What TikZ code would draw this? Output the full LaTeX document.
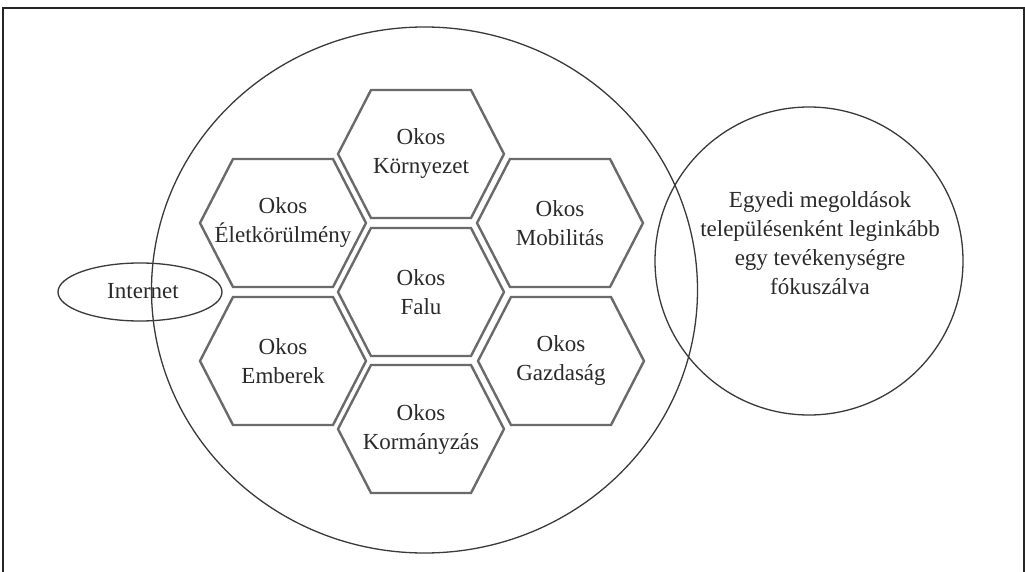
\documentclass[tikz,border=0pt]{standalone}
\usepackage{fontspec}
\setmainfont{Liberation Serif}
\usetikzlibrary{shapes.geometric}
\definecolor{hexline}{HTML}{6A6A6A}
\definecolor{ringline}{HTML}{3A3A3A}
\definecolor{txt}{HTML}{2A2A2A}
\tikzset{
  hexedge/.style={draw=hexline, line width=2.4pt, line join=miter},
  ring/.style={draw=ringline, line width=1.3pt},
  lbl/.style={align=center, text=txt, font=\fontsize{23}{29}\selectfont, inner sep=0pt},
  frameline/.style={draw=black!85, line width=1.6pt}
}
\newcommand{\hexcell}[4]{%
  \draw[hexedge] ($(#2,#3)+(-83,0)$) -- ++(33,64) -- ++(100,0) -- ++(33,-64) -- ++(-33,-64) -- ++(-100,0) -- cycle;
  \node[lbl] (#1) at (#2,#3) {#4};
}
\usetikzlibrary{calc}
\begin{document}
\begin{tikzpicture}[x=1pt,y=-1pt]
\useasboundingbox (0,0) rectangle (1025,572);
\fill[white] (0,0) rectangle (1025,572);
% frame (no bottom edge)
\draw[frameline] (3,572) -- (3,8) -- (1024,8) -- (1024,572);
% big ellipse
\node[ring, ellipse, minimum width=546pt, minimum height=526pt, inner sep=0pt] (big) at (424.5,290) {};
% right circle
\node[ring, circle, minimum size=308pt, inner sep=0pt] (right) at (809,261) {};
\node[lbl] (righttext) at (820,243) {Egyedi megoldások\\településenként leginkább\\egy tevékenységre\\fókuszálva};
% Internet
\node[ring, ellipse, minimum width=164pt, minimum height=58pt, inner sep=0pt] (inet) at (140,292) {};
\node[lbl] (inettext) at (143,291) {Internet};
% hexagons
\hexcell{korny}{421}{154}{Okos\\Környezet}
\hexcell{elet}{283}{223}{Okos\\Életkörülmény}
\hexcell{mobil}{560}{223}{Okos\\Mobilitás}
\hexcell{falu}{421}{292}{Okos\\Falu}
\hexcell{ember}{283}{361}{Okos\\Emberek}
\hexcell{gazd}{561}{361}{Okos\\Gazdaság}
\hexcell{korm}{421}{429}{Okos\\Kormányzás}
\end{tikzpicture}
\end{document}
